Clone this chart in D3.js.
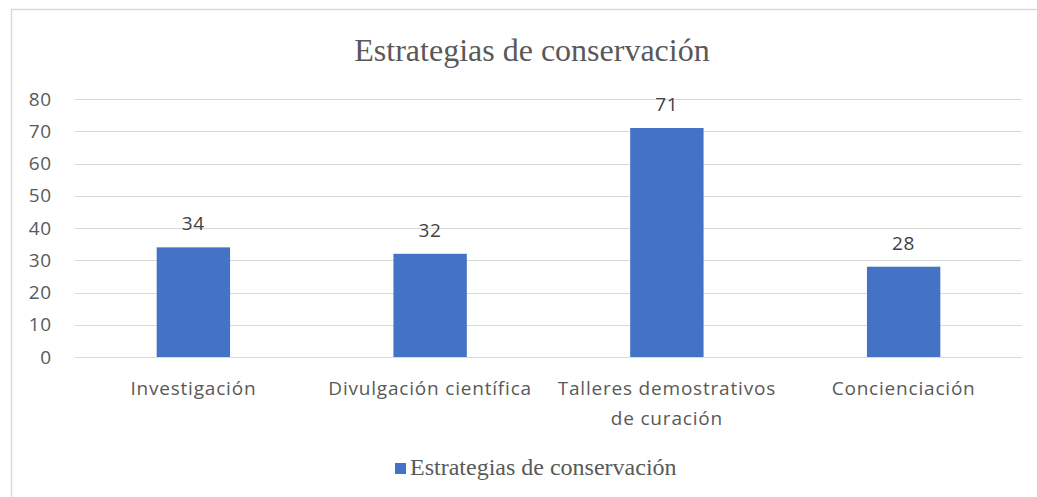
<!DOCTYPE html>
<html lang="es">
<head>
  <meta charset="utf-8">
  <title>Estrategias de conservación</title>
  <script src="https://d3js.org/d3.v7.min.js"></script>
  <style>
    body { margin: 0; background: #fff; }
    svg { display: block; }
  </style>
</head>
<body>
  <script>
    // datos del grafico
    var categories = [["Investigación"], ["Divulgación científica"], ["Talleres demostrativos", "de curación"], ["Concienciación"]];
    var values = [34, 32, 71, 28];
    var yTicks = [0, 10, 20, 30, 40, 50, 60, 70, 80];
    var seriesName = "Estrategias de conservación";

    var width = 1037, height = 497;
    var labelFont = "19px 'Open Sans', sans-serif";

    var svg = d3.select("body").append("svg")
      .attr("width", width)
      .attr("height", height);

    // marco del grafico
    svg.append("rect")
      .attr("x", 11.5).attr("y", 9.5)
      .attr("width", 1040).attr("height", 500)
      .attr("fill", "#fff")
      .attr("stroke", "#d9d9d9")
      .attr("stroke-width", 1.5);

    var x = d3.scaleBand()
      .domain(categories.map(function(d, i) { return i; }))
      .range([75, 1022])
      .paddingInner(0.69)
      .paddingOuter(0.345);

    var y = d3.scaleLinear()
      .domain([0, 80])
      .range([357, 99]);

    // lineas de la cuadricula
    svg.append("g")
      .selectAll("line")
      .data(yTicks)
      .enter().append("line")
      .attr("x1", 75).attr("x2", 1022)
      .attr("y1", function(d) { return Math.round(y(d)) + 0.5; })
      .attr("y2", function(d) { return Math.round(y(d)) + 0.5; })
      .attr("stroke", "#d9d9d9")
      .attr("stroke-width", 1);

    // etiquetas del eje y
    svg.append("g")
      .selectAll("text")
      .data(yTicks)
      .enter().append("text")
      .attr("x", 52)
      .attr("y", function(d) { return y(d); })
      .attr("dy", "0.35em")
      .attr("text-anchor", "end")
      .style("font", labelFont)
      .style("letter-spacing", "0.8px")
      .style("fill", "#595959")
      .text(function(d) { return d; });

    // barras
    svg.append("g")
      .selectAll("rect")
      .data(values)
      .enter().append("rect")
      .attr("x", function(d, i) { return x(i); })
      .attr("y", function(d) { return y(d); })
      .attr("width", x.bandwidth())
      .attr("height", function(d) { return y(0) - y(d); })
      .attr("fill", "#4472c4");

    // etiquetas de datos
    svg.append("g")
      .selectAll("text")
      .data(values)
      .enter().append("text")
      .attr("x", function(d, i) { return x(i) + x.bandwidth() / 2; })
      .attr("y", function(d) { return y(d) - 17; })
      .attr("text-anchor", "middle")
      .style("font", labelFont)
      .style("letter-spacing", "0.8px")
      .style("fill", "#404040")
      .text(function(d) { return d; });

    // etiquetas de categorias
    var cat = svg.append("g")
      .selectAll("text")
      .data(categories)
      .enter().append("text")
      .attr("x", function(d, i) { return x(i) + x.bandwidth() / 2; })
      .attr("y", 395)
      .attr("text-anchor", "middle")
      .style("font", labelFont)
      .style("letter-spacing", "0.8px")
      .style("fill", "#595959");
    cat.selectAll("tspan")
      .data(function(d) { return d; })
      .enter().append("tspan")
      .attr("x", function() { return d3.select(this.parentNode).attr("x"); })
      .attr("dy", function(d, i) { return i === 0 ? 0 : 30; })
      .text(function(d) { return d; });

    // titulo
    svg.append("text")
      .attr("x", 532)
      .attr("y", 61)
      .attr("text-anchor", "middle")
      .style("font", "32px 'Liberation Serif', 'Times New Roman', serif")
      .style("fill", "#595959")
      .text(seriesName);

    // leyenda
    svg.append("rect")
      .attr("x", 395).attr("y", 463)
      .attr("width", 11).attr("height", 11)
      .attr("fill", "#4472c4");
    svg.append("text")
      .attr("x", 410)
      .attr("y", 475)
      .style("font", "24px 'Liberation Serif', 'Times New Roman', serif")
      .style("fill", "#595959")
      .text(seriesName);
  </script>
</body>
</html>
